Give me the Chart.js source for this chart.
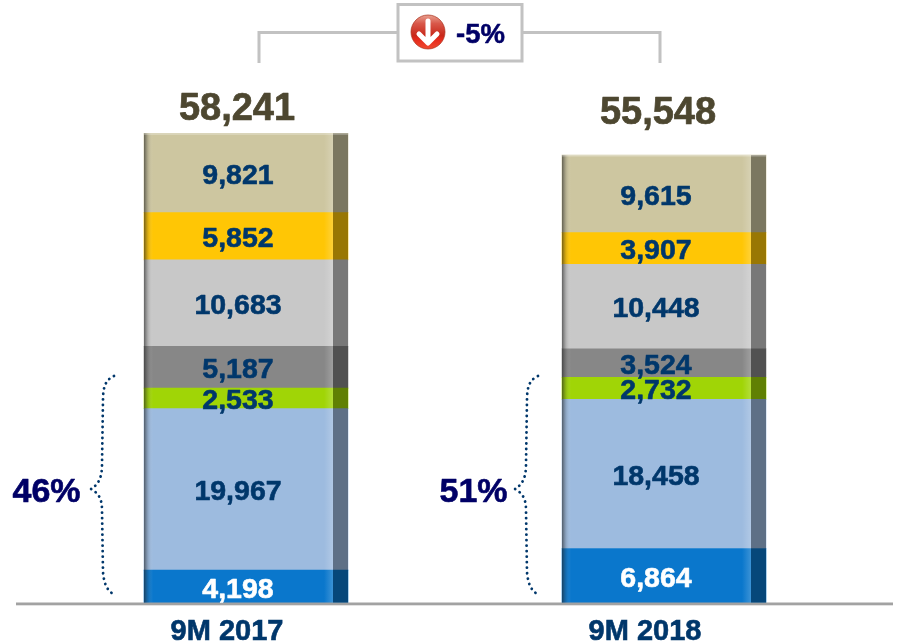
<!DOCTYPE html>
<html>
<head>
<meta charset="utf-8">
<style>html,body{margin:0;padding:0;background:#fff}canvas{display:block}</style>
<script src="https://cdn.jsdelivr.net/npm/chart.js@4/dist/chart.umd.min.js"></script>
</head>
<body>
<canvas id="c" width="922" height="643"></canvas>
<script>
const categories = ['9M 2017', '9M 2018'];
const seriesA = [4198, 6864];
const seriesB = [19967, 18458];
const seriesC = [2533, 2732];
const seriesD = [5187, 3524];
const seriesE = [10683, 10448];
const seriesF = [5852, 3907];
const seriesG = [9821, 9615];
const totals = [58241, 55548];
const shares = ['46%', '51%'];
const changeLabel = '-5%';

const colors = ['#0A77CC', '#9DBBDF', '#A0D506', '#878787', '#C8C8C8', '#FFC605', '#CDC6A0'];
const labelColors = ['#FFFFFF', '#00376B', '#00376B', '#00376B', '#00376B', '#00376B', '#00376B'];
const FONT = '"Liberation Sans", Arial, sans-serif';
const fmt = v => v.toLocaleString('en-US');

function boldText(ctx, text, x, y, sw) {
  ctx.lineWidth = sw;
  ctx.strokeStyle = ctx.fillStyle;
  ctx.lineJoin = 'round';
  ctx.strokeText(text, x, y);
  ctx.fillText(text, x, y);
}

const decor = {
  id: 'decor',
  afterDatasetsDraw(chart) {
    const ctx = chart.ctx;
    const n = chart.data.datasets.length;
    const base = chart.scales.y.getPixelForValue(0);

    // baseline
    ctx.save();
    ctx.fillStyle = 'rgba(160,160,160,0.3)';
    ctx.fillRect(16, base + 0.5, 877, 1.5);
    ctx.fillStyle = '#A2A2A2';
    ctx.fillRect(16, base - 1.5, 877, 2.5);
    ctx.restore();

    // cylinder-like shading on every bar
    categories.forEach((_, i) => {
      const topEl = chart.getDatasetMeta(n - 1).data[i];
      const L = topEl.x - topEl.width / 2, R = topEl.x + topEl.width / 2;
      const T = topEl.y, H = base - 1.5 - T;
      ctx.save();
      let g = ctx.createLinearGradient(L, 0, L + 9, 0);
      g.addColorStop(0, 'rgba(30,30,30,0.6)');
      g.addColorStop(0.45, 'rgba(60,60,60,0.18)');
      g.addColorStop(1, 'rgba(255,255,255,0)');
      ctx.fillStyle = g;
      ctx.fillRect(L, T, 9, H);
      g = ctx.createLinearGradient(R - 24, 0, R - 15, 0);
      g.addColorStop(0, 'rgba(255,255,255,0)');
      g.addColorStop(1, 'rgba(255,255,255,0.2)');
      ctx.fillStyle = g;
      ctx.fillRect(R - 24, T, 9, H);
      ctx.fillStyle = 'rgba(0,0,0,0.4)';
      ctx.fillRect(R - 15, T, 15, H);
      ctx.fillStyle = 'rgba(255,255,255,0.35)';
      ctx.fillRect(L, T, R - L, 1.5);
      ctx.restore();
    });

    // value labels
    ctx.save();
    ctx.textAlign = 'center';
    ctx.textBaseline = 'middle';
    ctx.font = 'bold 28.5px ' + FONT;
    chart.data.datasets.forEach((ds, d) => {
      chart.getDatasetMeta(d).data.forEach((el, i) => {
        ctx.fillStyle = labelColors[d];
        boldText(ctx, fmt(ds.data[i]), el.x - 8, (el.y + el.base) / 2 + 3, 0.6);
      });
    });

    // totals
    ctx.font = 'bold 38px ' + FONT;
    ctx.fillStyle = '#4D4730';
    const gaps = [24, 41];
    totals.forEach((t, i) => {
      const el = chart.getDatasetMeta(n - 1).data[i];
      boldText(ctx, fmt(t), el.x - 9 + i * 3, el.y - gaps[i], 0.7);
    });
    ctx.restore();

    // braces + shares
    categories.forEach((_, i) => {
      const el = chart.getDatasetMeta(0).data[i];
      const dx = el.x - 246;
      ctx.save();
      ctx.strokeStyle = '#00376B';
      ctx.lineWidth = 2.8;
      ctx.lineCap = 'round';
      ctx.setLineDash([0.1, 5.4]);
      ctx.beginPath();
      const ox = dx + (i ? 6 : 0);
      ctx.moveTo(114 + ox, 376);
      ctx.bezierCurveTo(105 + ox, 380, 103 + ox, 388, 103 + ox, 400);
      ctx.lineTo(102 + ox, 465);
      ctx.bezierCurveTo(102 + ox, 478, 98 + ox, 485, 91 + ox, 489);
      ctx.bezierCurveTo(98 + ox, 493, 102 + ox, 498, 102 + ox, 510);
      ctx.lineTo(103 + ox, 572);
      ctx.bezierCurveTo(104 + ox, 584, 107 + ox, 591, 115 + ox, 595);
      ctx.stroke();
      ctx.restore();
      ctx.save();
      ctx.font = 'bold 34px ' + FONT;
      ctx.fillStyle = '#000066';
      ctx.textAlign = 'center';
      ctx.textBaseline = 'middle';
      boldText(ctx, shares[i], 46.5 + dx + (i ? 9 : 0), 493, 0.6);
      ctx.restore();
    });

    // change connector
    ctx.save();
    ctx.strokeStyle = '#C2C2C2';
    ctx.lineWidth = 3;
    ctx.beginPath();
    ctx.moveTo(259, 63); ctx.lineTo(259, 32.5); ctx.lineTo(397, 32.5);
    ctx.moveTo(523, 32.5); ctx.lineTo(660, 32.5); ctx.lineTo(660, 63);
    ctx.stroke();
    ctx.strokeRect(398, 4.5, 124, 56.5);

    // icon
    const cx = 428, cy = 32, r = 17;
    const g = ctx.createLinearGradient(0, cy - r, 0, cy + r);
    g.addColorStop(0, '#E8A090');
    g.addColorStop(0.25, '#D9584A');
    g.addColorStop(0.6, '#C8281A');
    g.addColorStop(0.72, '#E52A1C');
    g.addColorStop(1, '#F04A30');
    ctx.fillStyle = g;
    ctx.beginPath(); ctx.arc(cx, cy, r, 0, Math.PI * 2); ctx.fill();
    ctx.strokeStyle = 'rgba(170,50,30,0.7)';
    ctx.lineWidth = 1;
    ctx.stroke();
    ctx.strokeStyle = '#FFFFFF';
    ctx.lineWidth = 5;
    ctx.lineCap = 'round';
    ctx.lineJoin = 'round';
    ctx.beginPath();
    ctx.moveTo(cx, cy - 11); ctx.lineTo(cx, cy + 10);
    ctx.moveTo(cx - 9, cy + 2); ctx.lineTo(cx, cy + 11); ctx.lineTo(cx + 9, cy + 2);
    ctx.stroke();

    ctx.font = 'bold 27.5px ' + FONT;
    ctx.fillStyle = '#000066';
    ctx.textAlign = 'left';
    ctx.textBaseline = 'middle';
    boldText(ctx, changeLabel, 456, 35, 0.5);
    ctx.restore();
  }
};

const seriesList = [seriesA, seriesB, seriesC, seriesD, seriesE, seriesF, seriesG];

new Chart(document.getElementById('c'), {
  type: 'bar',
  data: {
    labels: categories,
    datasets: seriesList.map((values, i) => ({
      data: values,
      backgroundColor: colors[i],
      borderWidth: 0,
      barThickness: 204
    }))
  },
  options: {
    responsive: false,
    animation: false,
    devicePixelRatio: 1,
    layout: { padding: { left: 37, right: 49, top: 0, bottom: 0 } },
    plugins: { legend: { display: false }, tooltip: { enabled: false }, title: { display: false } },
    scales: {
      x: {
        stacked: true,
        grid: { display: false },
        border: { display: false },
        ticks: {
          color: '#00376B',
          font: { family: FONT, size: 29, weight: 'bold' },
          padding: 3,
          labelOffset: -19,
          textStrokeColor: '#00376B',
          textStrokeWidth: 0.6,
          maxRotation: 0
        },
        afterFit(scale) { scale.height = 39; }
      },
      y: {
        stacked: true,
        display: false,
        min: 0,
        max: 74720
      }
    }
  },
  plugins: [decor]
});
</script>
</body>
</html>
